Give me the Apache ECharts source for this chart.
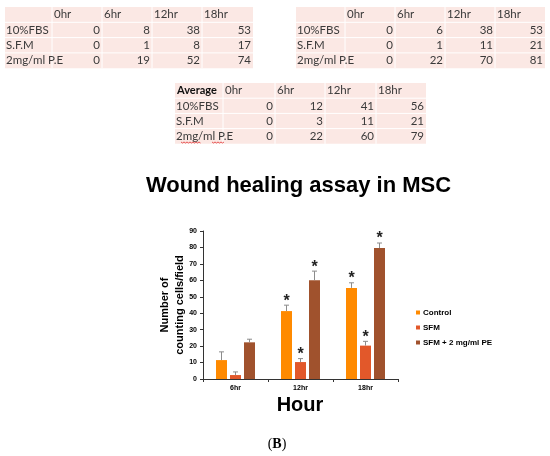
<!DOCTYPE html>
<html><head><meta charset="utf-8">
<script src="https://cdn.jsdelivr.net/npm/echarts@6/dist/echarts.min.js"></script>
<style>html,body{margin:0;padding:0;background:#fff}#c{width:550px;height:456px}</style>
</head><body><div id="c"></div>
<script>
// ---- table data ----
const hours = ['0hr', '6hr', '12hr', '18hr'];
const groups = ['10%FBS', 'S.F.M', '2mg/ml P.E'];
const trial1 = [[0, 8, 38, 53], [0, 1, 8, 17], [0, 19, 52, 74]];
const trial2 = [[0, 6, 38, 53], [0, 1, 11, 21], [0, 22, 70, 81]];
const average = [[0, 12, 41, 56], [0, 3, 11, 21], [0, 22, 60, 79]];

// ---- chart data ----
const categories = ['6hr', '12hr', '18hr'];
const seriesNames = ['Control', 'SFM', 'SFM + 2 mg/ml PE'];
const controlMean = [11.5, 41.3, 55.4];
const controlErr = [5.0, 3.6, 3.1];
const controlSig = [0, 1, 1];
const sfmMean = [2.4, 10.3, 20.3];
const sfmErr = [1.9, 2.1, 2.6];
const sfmSig = [0, 1, 1];
const peMean = [22.3, 60.1, 79.6];
const peErr = [1.9, 5.5, 3.1];
const peSig = [0, 1, 1];

const colors = ['#FF8A00', '#E2582A', '#A0522D'];
const SANS = '"Liberation Sans", Arial, sans-serif';
const TF = 'Lato, "Open Sans", sans-serif';

const chart = echarts.init(document.getElementById('c'), null, { renderer: 'canvas' });

function txt(t, x, y, align, font, fill) {
  return {
    type: 'text', silent: true, z: 10,
    style: { text: t, x: x, y: y, align: align, textAlign: align, verticalAlign: 'middle', textVerticalAlign: 'middle',
      font: font, fill: fill || '#3a3a3a' }
  };
}

const graphics = [];
function table(cols, top, rowH, corner, rows) {
  const x0 = cols[0], x1 = cols[cols.length - 1], nR = rows.length + 1;
  graphics.push({ type: 'rect', silent: true, shape: { x: x0, y: top, width: x1 - x0, height: rowH * nR }, style: { fill: '#fbe8e4' } });
  for (let r = 1; r < nR; r++) graphics.push({ type: 'line', silent: true, shape: { x1: x0, y1: top + r * rowH, x2: x1, y2: top + r * rowH }, style: { stroke: '#fff', lineWidth: 1 } });
  for (let c = 1; c < cols.length - 1; c++) graphics.push({ type: 'line', silent: true, shape: { x1: cols[c], y1: top, x2: cols[c], y2: top + rowH * nR }, style: { stroke: '#fff', lineWidth: 1 } });
  const ty = r => top + rowH * (r + 0.5);
  const F = '11.5px ' + TF;
  if (corner) graphics.push(txt(corner, x0 + 2, ty(0), 'left', 'bold 11px ' + TF, '#111'));
  hours.forEach((h, i) => graphics.push(txt(h, cols[i + 1] + 2, ty(0), 'left', F)));
  rows.forEach((row, r) => {
    graphics.push(txt(groups[r], x0 + 1, ty(r + 1), 'left', F));
    row.forEach((v, i) => graphics.push(txt(String(v), cols[i + 2] - 2, ty(r + 1), 'right', F)));
  });
}
table([5, 52, 102, 152, 202, 253], 7, 15.3, '', trial1);
table([296, 345, 395, 445, 495, 545], 7, 15.3, '', trial2);
table([175, 223, 275, 325, 376, 426], 83, 15.2, 'Average', average);

// spell-check squiggles under "2mg/ml" and "P.E" in the average table
function squiggle(xa, xb, y) {
  const pts = [];
  for (let x = xa, k = 0; x <= xb; x += 1.5, k++) pts.push([x, y + (k % 2 ? 1 : 0)]);
  graphics.push({ type: 'polyline', silent: true, z: 11, shape: { points: pts }, style: { stroke: '#e03030', lineWidth: 0.8, fill: null } });
}
squiggle(181, 201, 142);
squiggle(212, 224, 142);

// titles / labels
graphics.push(txt('Wound healing assay in MSC', 298.5, 186, 'center', 'bold 22px ' + SANS, '#000'));
graphics.push({
  type: 'text', silent: true, x: 172.5, y: 305, rotation: Math.PI / 2,
  style: { text: 'Number of\ncounting cells/field', x: 0, y: 0, align: 'center', textAlign: 'center', verticalAlign: 'middle', textVerticalAlign: 'middle',
    font: 'bold 11px ' + SANS, lineHeight: 15, fill: '#000' }
});
graphics.push(txt('Hour', 300, 405, 'center', 'bold 20px ' + SANS, '#000'));
graphics.push({
  type: 'text', silent: true,
  style: { text: '{p|(}{b|B}{p|)}', x: 277, y: 444, align: 'center', textAlign: 'center', verticalAlign: 'middle', textVerticalAlign: 'middle',
    rich: { p: { font: '14px "Liberation Serif", serif', fill: '#000' }, b: { font: 'bold 14px "Liberation Serif", serif', fill: '#000' } } }
});

const BW = 11, GAP = 3;
const offsets = [-(BW + GAP), 0, BW + GAP];
function errSeries(idx, mean, err, sig) {
  return {
    type: 'custom', name: 'err' + idx, z: 5, silent: true,
    data: mean.map((m, i) => [i, m, err[i], sig[i]]),
    encode: { x: 0, y: 1 },
    renderItem: function (params, api) {
      const ci = api.value(0), m = api.value(1), e = api.value(2), s = api.value(3);
      const base = api.coord([ci, m]);
      const top = api.coord([ci, m + e]);
      const x = base[0] + offsets[idx];
      const children = [
        { type: 'line', shape: { x1: x, y1: base[1], x2: x, y2: top[1] }, style: { stroke: '#8c8c8c', lineWidth: 1 } },
        { type: 'line', shape: { x1: x - 2.5, y1: top[1], x2: x + 2.5, y2: top[1] }, style: { stroke: '#8c8c8c', lineWidth: 1 } }
      ];
      if (s) children.push({ type: 'text', style: { text: '*', x: x, y: top[1] - 4, align: 'center', textAlign: 'center', verticalAlign: 'middle', textVerticalAlign: 'middle', font: 'bold 16px ' + SANS, fill: '#222' } });
      return { type: 'group', children: children };
    }
  };
}

const option = {
  animation: false,
  grid: { left: 203, top: 231, width: 195, height: 148, containLabel: false },
  legend: {
    data: seriesNames, orient: 'vertical', left: 411, top: 303, itemGap: 6,
    icon: 'rect', itemWidth: 4, itemHeight: 4,
    textStyle: { fontFamily: SANS, fontWeight: 'bold', fontSize: 8, color: '#000', padding: [0, 0, 0, -2], lineHeight: 9 }
  },
  xAxis: {
    type: 'category', data: categories,
    axisLine: { lineStyle: { color: '#333', width: 1 } },
    axisTick: { show: true, length: 3, lineStyle: { color: '#333' } },
    axisLabel: { fontFamily: SANS, fontWeight: 'bold', fontSize: 7, color: '#000', margin: 6 }
  },
  yAxis: {
    type: 'value', min: 0, max: 90, interval: 10,
    splitLine: { show: false },
    axisLine: { show: true, lineStyle: { color: '#333', width: 1 } },
    axisTick: { show: true, length: 3, lineStyle: { color: '#333' } },
    axisLabel: { fontFamily: SANS, fontWeight: 'bold', fontSize: 7, color: '#000', margin: 6 }
  },
  series: [
    { type: 'bar', name: seriesNames[0], data: controlMean, barWidth: BW, barGap: (GAP / BW * 100) + '%', itemStyle: { color: colors[0] } },
    { type: 'bar', name: seriesNames[1], data: sfmMean, barWidth: BW, barGap: (GAP / BW * 100) + '%', itemStyle: { color: colors[1] } },
    { type: 'bar', name: seriesNames[2], data: peMean, barWidth: BW, barGap: (GAP / BW * 100) + '%', itemStyle: { color: colors[2] } },
    errSeries(0, controlMean, controlErr, controlSig),
    errSeries(1, sfmMean, sfmErr, sfmSig),
    errSeries(2, peMean, peErr, peSig)
  ],
  graphic: { elements: graphics }
};
chart.setOption(option);
</script>
</body></html>
